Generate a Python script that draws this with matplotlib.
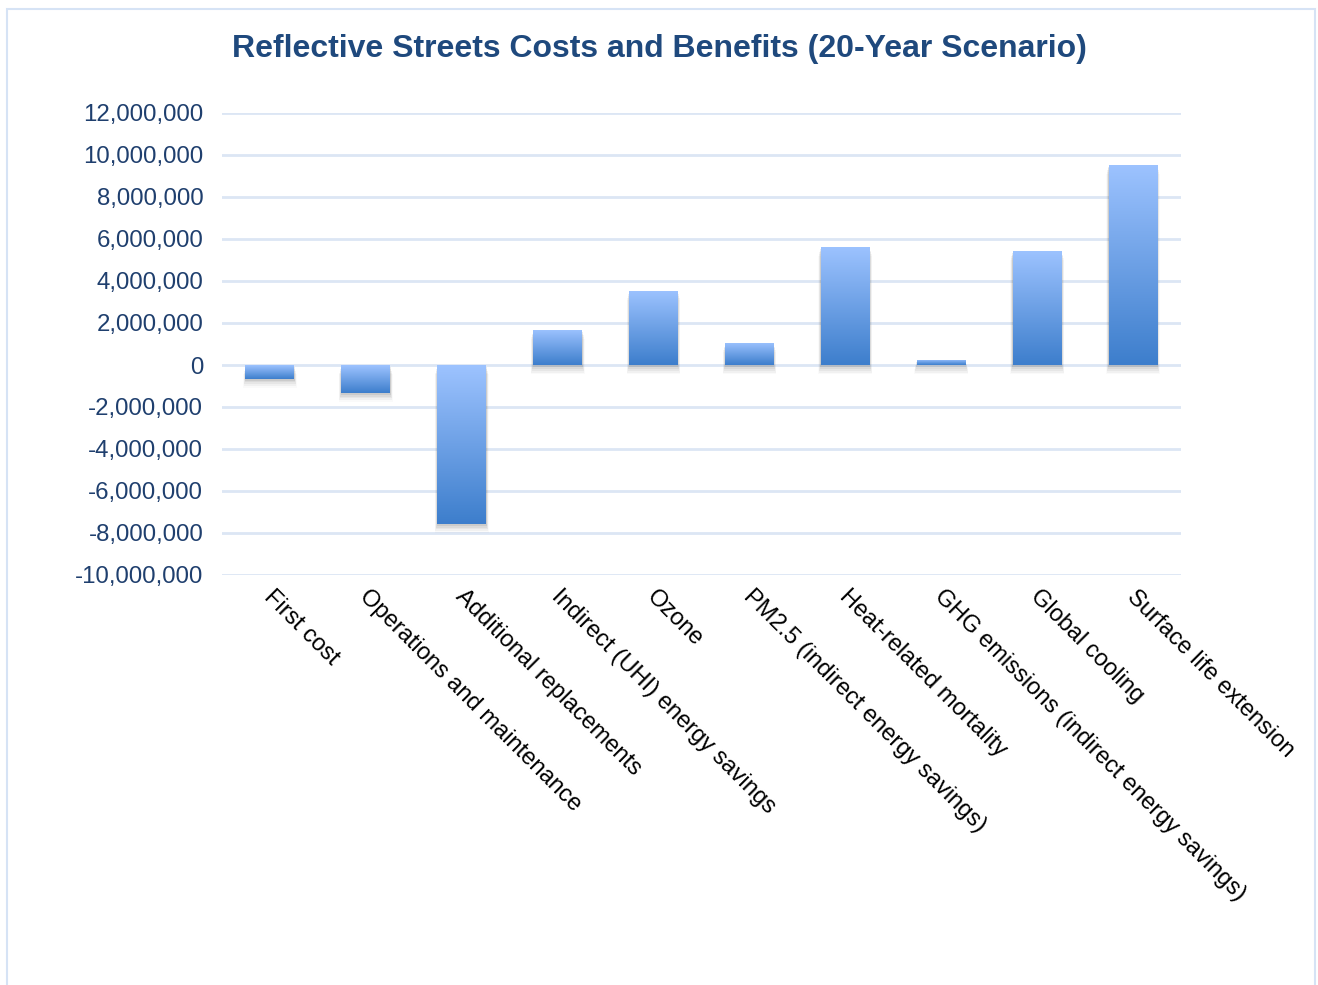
import matplotlib
matplotlib.use("Agg")
import matplotlib.pyplot as plt
import numpy as np
from matplotlib.patches import Rectangle
from matplotlib.colors import LinearSegmentedColormap

categories = ["First cost", "Operations and maintenance", "Additional replacements",
              "Indirect (UHI) energy savings", "Ozone", "PM2.5 (indirect energy savings)",
              "Heat-related mortality", "GHG emissions (indirect energy savings)",
              "Global cooling", "Surface life extension"]
values = [-650000, -1320000, -7560000, 1680000, 3540000, 1060000,
          5630000, 250000, 5440000, 9540000]
yticks = list(range(-10000000, 12000001, 2000000))

plt.rcParams['font.family'] = ['Liberation Sans', 'DejaVu Sans']
fig = plt.figure(figsize=(13.18, 9.85), dpi=100)
ax = fig.add_axes([222/1318, 1-575/985, (1181-222)/1318, (575-113)/985])

# frame border
fig.patches.append(Rectangle((7/1318, -0.01), (1315-7)/1318, 1-9/985+0.01,
                             transform=fig.transFigure, fill=False,
                             edgecolor='#D6E3F5', linewidth=1.5))

x = np.arange(len(categories))
width = 0.51
ax.set_xlim(-0.5, len(categories)-0.5)
ax.set_ylim(-10000000, 12000000)

cmap = LinearSegmentedColormap.from_list('g', ['#9DC3FF', '#3D7ECC'])
grad = np.linspace(0, 1, 256).reshape(-1, 1)

bars = ax.bar(x, values, width=width, color='none', zorder=3)
for b in bars:
    x0 = b.get_x(); w = b.get_width()
    y0 = min(b.get_y(), b.get_y()+b.get_height())
    y1 = max(b.get_y(), b.get_y()+b.get_height())
    # shadow
    for k, a in [(1, 0.12), (2, 0.09), (3, 0.07), (4, 0.05), (5, 0.03)]:
        dy = k*100000*0.9
        ax.add_patch(Rectangle((x0-0.005*k, y0-dy), w+0.01*k, (y1-y0),
                               facecolor='#606060', alpha=a, edgecolor='none', zorder=2))
    im = ax.imshow(grad, extent=(x0, x0+w, y0, y1), aspect='auto', cmap=cmap,
                   origin='upper', zorder=3, interpolation='bilinear')
    im.set_clip_path(b)
ax.set_aspect('auto')
ax.set_xlim(-0.5, len(categories)-0.5)
ax.set_ylim(-10000000, 12000000)

ax.set_yticks(yticks)
ax.set_yticklabels([f"{v:,}" for v in yticks], fontsize=17.3, color='#1F3F6E')
ax.yaxis.grid(True, color='#DCE6F4', linewidth=2, zorder=0)
ax.set_axisbelow(True)
ax.tick_params(axis='y', length=0, pad=13.5)
ax.tick_params(axis='x', length=0)
for s in ax.spines.values():
    s.set_visible(False)

ax.set_xticks(x)
ax.set_xticklabels([])
for xi, c in zip(x, categories):
    ax.text(xi+0.05, -10500000, c, rotation=-45, ha='left', va='top',
            rotation_mode='anchor', fontsize=17, color='#000000')

fig.text(0.5, 1-49/985, "Reflective Streets Costs and Benefits (20-Year Scenario)",
         ha='center', va='center', fontsize=23, fontweight='bold', color='#1F497D')

fig.savefig('out.png', dpi=100)
